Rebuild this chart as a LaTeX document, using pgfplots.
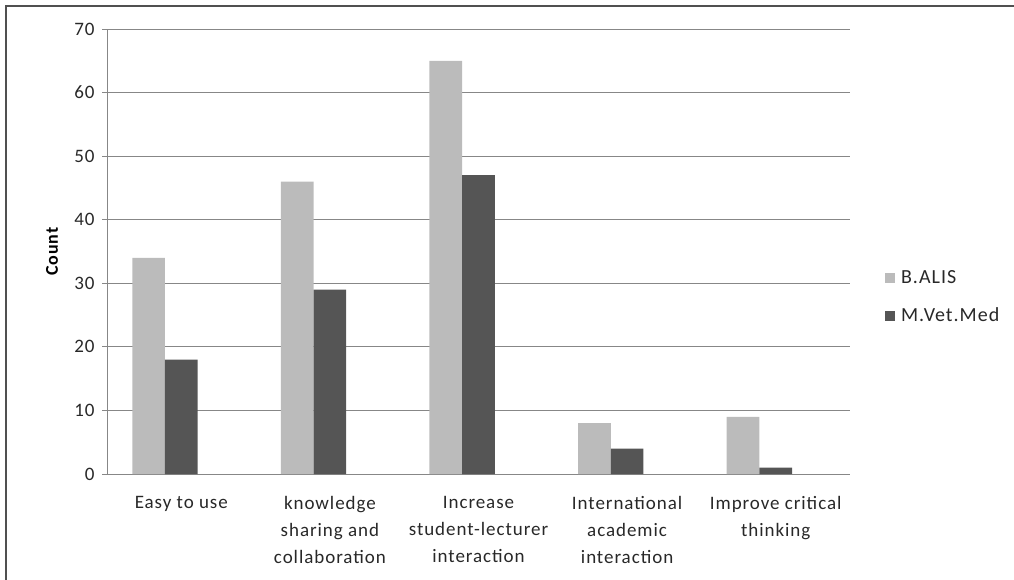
\documentclass[border=0pt]{standalone}
\usepackage{fontspec}
\setmainfont{Carlito}[LetterSpace=5]
\usepackage{pgfplots}
\pgfplotsset{compat=1.18}

\definecolor{barlight}{RGB}{187,187,187}
\definecolor{bardark}{RGB}{85,85,85}
\definecolor{gridgray}{RGB}{135,135,135}
\definecolor{framegray}{RGB}{80,80,80}
\definecolor{txt}{RGB}{40,40,40}

\begin{document}
\begin{tikzpicture}
\useasboundingbox (0pt,0pt) rectangle (1014pt,-580pt);
\draw[framegray, line width=1.6pt] (6pt,-580pt) -- (6pt,-6pt) -- (1014pt,-6pt);
\begin{axis}[
  at={(107pt,-474pt)}, anchor=south west,
  scale only axis, width=743pt, height=445pt,
  xmin=-0.5, xmax=4.5, ymin=0, ymax=70,
  ytick={0,10,...,70},
  xtick={0,1,2,3,4},
  xticklabels={Easy to use,
    knowledge\\sharing and\\collaboration,
    Increase\\student-lecturer\\interaction,
    International\\academic\\interaction,
    Improve critical\\thinking},
  extra x ticks={-0.5,0.5,1.5,2.5,3.5,4.5},
  extra x tick labels={},
  extra x tick style={major tick length=6pt, tick style={gridgray, line width=1pt}},
  major x tick style={draw=none},
  tick align=outside,
  major tick length=5pt,
  tick style={gridgray, line width=1pt},
  axis x line*=bottom, axis y line*=left,
  axis line style={gridgray, line width=1pt},
  ymajorgrids,
  grid style={gridgray, line width=1pt},
  /pgf/number format/assume math mode=true,
  ticklabel style={font=\fontsize{19}{27}\selectfont, text=txt},
  xticklabel style={align=center, anchor=north, yshift=-14pt},
  yticklabel style={xshift=-4pt},
  ylabel={Count},
  ylabel style={at={(axis description cs:-0.074,0.5)}, anchor=center,
    font=\fontsize{18}{20}\selectfont\bfseries, text=black},
  ybar, bar width=0.22,
  legend style={at={(1.047,0.398)}, anchor=west, draw=none, fill=none,
    font=\fontsize{20}{24}\selectfont, text=txt,
    row sep=19pt, inner sep=0pt,
    legend cell align=left},
  legend image code/.code={\fill[#1, draw=none] (0pt,-5pt) rectangle (10pt,5pt);
    \path (14pt,0pt);},
]
\addplot[fill=barlight, draw=none, bar shift=-0.22] coordinates {(0,34) (1,46) (2,65) (3,8) (4,9)};
\addplot[fill=bardark, draw=none, bar shift=0] coordinates {(0,18) (1,29) (2,47) (3,4) (4,1)};
\legend{B.ALIS, M.Vet.Med}
\end{axis}
\end{tikzpicture}
\end{document}
